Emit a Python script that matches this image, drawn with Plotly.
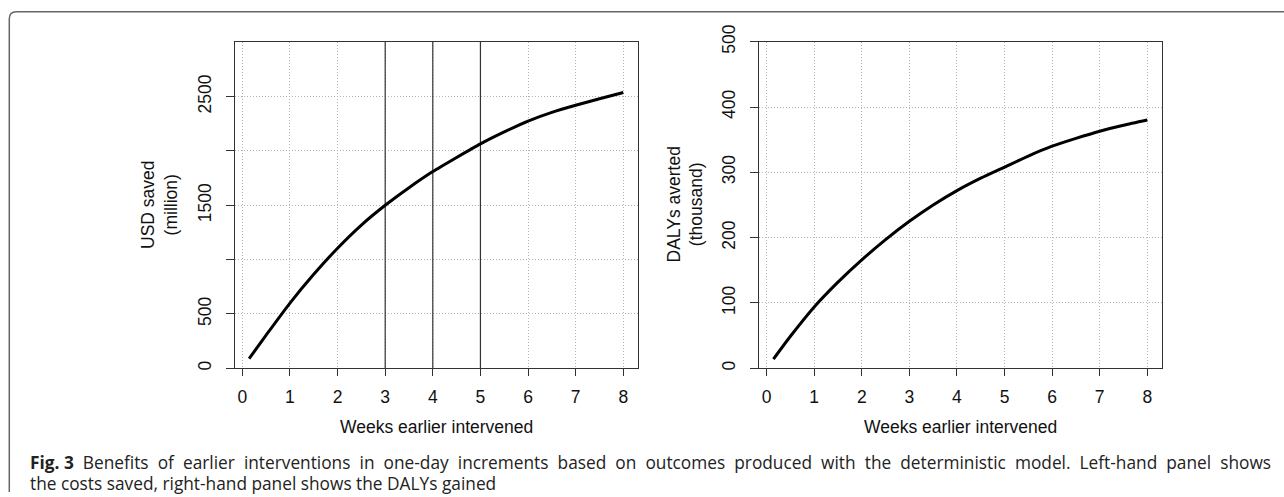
import plotly.graph_objects as go

# ---------------- data ----------------
weeks = [0.143, 0.5, 1, 1.5, 2, 2.5, 3, 3.5, 4, 4.5, 5, 5.5, 6, 6.5, 7, 7.5, 8]
usd_saved = [90, 305, 600, 865, 1105, 1318, 1500, 1662, 1810, 1940, 2065,
             2175, 2275, 2355, 2420, 2480, 2538]
dalys_averted = [14, 49, 94, 132, 166, 197, 225, 250, 272, 291, 308,
                 325, 340, 352, 363, 372, 380]
marked_weeks = [3, 4, 5]

x_ticks = [0, 1, 2, 3, 4, 5, 6, 7, 8]
usd_ticks = [0, 500, 1000, 1500, 2000, 2500]
usd_ticktext = ["0", "500", "", "1500", "", "2500"]
daly_ticks = [0, 100, 200, 300, 400, 500]
daly_ticktext = ["0", "100", "200", "300", "400", "500"]

x_title = "Weeks earlier intervened"
left_ytitle = "USD saved<br>(million)"
right_ytitle = "DALYs averted<br>(thousand)"
caption1_body = ("Benefits of earlier interventions in one-day increments "
                 "based on outcomes produced with the deterministic model. Left-hand panel shows")
caption2 = "the costs saved, right-hand panel shows the DALYs gained"

# ---------------- layout helpers ----------------
W, H = 1284, 497


def px(x):
    return x / W


def py(y):
    return 1 - y / H


AX_FONT = dict(family="Liberation Sans, Arial, sans-serif", size=17.5, color="#111")
CAP_FONT = dict(family="Open Sans, Noto Sans, sans-serif", size=17.3, color="#222")
GRID = dict(showgrid=True, gridcolor="#b4b4b4", griddash="1px,2px", gridwidth=1)

fig = go.Figure()
for w in marked_weeks:
    fig.add_trace(go.Scatter(x=[w, w], y=[0, 3005], mode="lines", xaxis="x", yaxis="y",
                             line=dict(color="#333", width=1.2), hoverinfo="skip"))
fig.add_trace(go.Scatter(x=weeks, y=usd_saved, mode="lines", xaxis="x", yaxis="y",
                         line=dict(color="black", width=3, shape="spline", smoothing=0.6),
                         hoverinfo="skip"))
fig.add_trace(go.Scatter(x=weeks, y=dalys_averted, mode="lines", xaxis="x2", yaxis="y2",
                         line=dict(color="black", width=3, shape="spline", smoothing=0.6),
                         hoverinfo="skip"))

common_x = dict(range=[-0.16, 8.315], tickvals=x_ticks, ticks="outside", ticklen=7,
                tickcolor="#333", tickwidth=1, showline=True, mirror=True,
                linecolor="#333", linewidth=1, zeroline=False, tickfont=AX_FONT,
                fixedrange=True, automargin=False, ticklabelstandoff=6, **GRID)
common_y = dict(ticks="outside", ticklen=8, tickcolor="#333", tickwidth=1,
                showline=True, mirror=True, linecolor="#333", linewidth=1,
                zeroline=False, tickfont=AX_FONT, tickangle=-90, fixedrange=True,
                automargin=False, ticklabelstandoff=8, **GRID)

fig.update_layout(
    width=W, height=H,
    margin=dict(l=0, r=0, t=0, b=0, autoexpand=False),
    paper_bgcolor="white", plot_bgcolor="white",
    showlegend=False,
    xaxis=dict(domain=[px(234.7), px(638.3)], anchor="y", **common_x),
    yaxis=dict(domain=[py(368.3), py(41.7)], anchor="x", range=[0, 3005],
               tickvals=usd_ticks, ticktext=usd_ticktext, **common_y),
    xaxis2=dict(domain=[px(759), px(1162.3)], anchor="y2", **common_x),
    yaxis2=dict(domain=[py(368.3), py(41.7)], anchor="x2", range=[0, 500],
                tickvals=daly_ticks, ticktext=daly_ticktext, **common_y),
)

# frame with rounded top-left corner
r = 7
border = (f"M 1,{py(11.7)} L {px(9.3 + r)},{py(11.7)} "
          f"Q {px(9.3)},{py(11.7)} {px(9.3)},{py(11.7 + r)} "
          f"L {px(9.3)},{py(492)}")
fig.add_shape(type="path", xref="paper", yref="paper", path=border,
              line=dict(color="#666", width=1.5))

# axis titles
fig.add_annotation(x=px(436.5), y=py(427), xref="paper", yref="paper", text=x_title,
                   showarrow=False, font=AX_FONT, xanchor="center", yanchor="middle")
fig.add_annotation(x=px(960.6), y=py(427), xref="paper", yref="paper", text=x_title,
                   showarrow=False, font=AX_FONT, xanchor="center", yanchor="middle")
fig.add_annotation(x=px(160), y=py(205), xref="paper", yref="paper", text=left_ytitle,
                   showarrow=False, font=AX_FONT, textangle=-90,
                   xanchor="center", yanchor="middle")
fig.add_annotation(x=px(685.5), y=py(205), xref="paper", yref="paper", text=right_ytitle,
                   showarrow=False, font=AX_FONT, textangle=-90,
                   xanchor="center", yanchor="middle")

# caption (first line is justified in the reference: widen word gaps slightly)
caption1 = "<b>Fig. 3</b>&nbsp;&nbsp;" + caption1_body.replace(" ", " \u2009\u200a")
fig.add_annotation(x=px(28), y=py(462), xref="paper", yref="paper", text=caption1,
                   showarrow=False, font=CAP_FONT, xanchor="left", yanchor="middle",
                   align="left")
fig.add_annotation(x=px(28), y=py(483), xref="paper", yref="paper", text=caption2,
                   showarrow=False, font=CAP_FONT, xanchor="left", yanchor="middle",
                   align="left")

fig.write_html("out.html", post_script="document.body.style.margin='0';",
               config={"displayModeBar": False})
